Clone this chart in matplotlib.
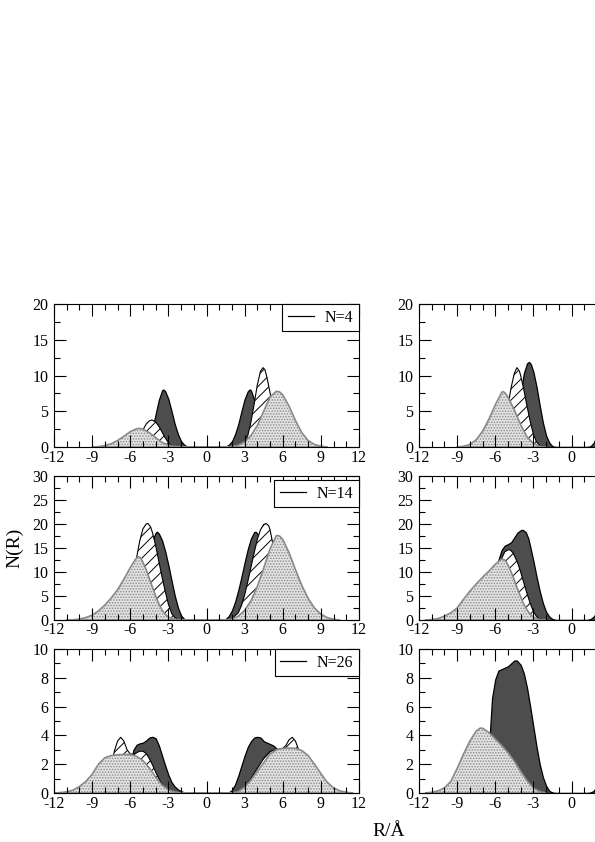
import matplotlib
matplotlib.use('Agg')
import matplotlib.pyplot as plt
from matplotlib.lines import Line2D
from matplotlib.ticker import MultipleLocator

plt.rcParams['font.family'] = ['Liberation Serif', 'DejaVu Serif']
plt.rcParams['axes.unicode_minus'] = False
plt.rcParams['hatch.linewidth'] = 0.7

# ---------------- data ----------------
# Left column, N=4
L1_dark_x = [-5.0, -4.75, -4.5, -4.25, -4.0, -3.75, -3.5, -3.4, -3.25, -3.0, -2.75, -2.5, -2.25, -2.0, -1.75, -1.5, -1.25,
             1.25, 1.5, 1.75, 2.0, 2.25, 2.5, 2.75, 3.0, 3.25, 3.4, 3.5, 3.75, 4.0, 4.25, 4.5, 4.75, 5.0]
L1_dark_y = [0, 0.3, 1.1, 2.6, 4.6, 6.6, 7.9, 8.05, 7.8, 6.7, 5.0, 3.2, 1.8, 0.8, 0.3, 0.05, 0,
             0, 0.05, 0.3, 0.8, 1.8, 3.2, 5.0, 6.7, 7.8, 8.05, 7.9, 6.6, 4.6, 2.6, 1.1, 0.3, 0]
L1_hatch_x = [-6.0, -5.5, -5.25, -5.0, -4.75, -4.5, -4.3, -4.0, -3.75, -3.5, -3.25, -3.0, -2.75, -2.5, -2.25,
              2.5, 2.75, 3.0, 3.25, 3.5, 3.75, 4.0, 4.25, 4.45, 4.6, 4.75, 5.0, 5.25, 5.5, 5.75, 6.0, 6.5, 7.0]
L1_hatch_y = [0, 0.6, 1.4, 2.4, 3.2, 3.65, 3.78, 3.5, 2.9, 2.1, 1.3, 0.6, 0.2, 0.05, 0,
              0, 0.2, 0.6, 1.6, 3.5, 6.0, 8.7, 10.6, 11.1, 10.8, 9.8, 7.6, 5.2, 3.0, 1.5, 0.6, 0.1, 0]
L1_dot_x = [-9.0, -8.5, -8.0, -7.5, -7.0, -6.5, -6.0, -5.5, -5.25, -5.0, -4.5, -4.0, -3.5, -3.0, -2.5, -2.0,
            1.5, 2.0, 2.5, 3.0, 3.5, 4.0, 4.5, 5.0, 5.5, 5.75, 6.0, 6.5, 7.0, 7.5, 8.0, 8.5, 9.0, 9.5]
L1_dot_y = [0, 0.05, 0.2, 0.45, 0.9, 1.5, 2.15, 2.55, 2.6, 2.5, 2.0, 1.3, 0.65, 0.25, 0.07, 0,
            0, 0.05, 0.25, 0.7, 1.6, 3.0, 5.0, 7.0, 7.8, 7.7, 7.3, 5.7, 3.7, 2.0, 0.9, 0.35, 0.1, 0]

# Left column, N=14
L2_dark_x = [-5.5, -5.0, -4.75, -4.5, -4.25, -4.0, -3.9, -3.75, -3.5, -3.25, -3.0, -2.75, -2.5, -2.25, -2.0, -1.75, -1.5,
             1.0, 1.5, 1.75, 2.0, 2.25, 2.5, 2.75, 3.0, 3.25, 3.5, 3.75, 3.85, 4.0, 4.25, 4.5, 4.75, 5.0, 5.5, 6.0]
L2_dark_y = [0, 3, 8, 13, 16.5, 18.2, 18.4, 18.0, 16.6, 14.3, 11.4, 8.2, 5.1, 2.6, 0.9, 0.2, 0,
             0, 0.2, 0.8, 2.0, 3.8, 6.2, 9.0, 12.0, 14.8, 17.0, 18.3, 18.4, 18.0, 15.5, 11.0, 6.0, 2.5, 0.3, 0]
L2_hatch_x = [-7.5, -7.0, -6.5, -6.0, -5.75, -5.5, -5.25, -5.0, -4.75, -4.6, -4.4, -4.25, -4.0, -3.75, -3.5, -3.25,
              -3.0, -2.75, -2.5, -2.25, -2.0,
              1.5, 2.0, 2.5, 2.75, 3.0, 3.25, 3.5, 3.75, 4.0, 4.25, 4.5, 4.7, 4.9, 5.0, 5.25, 5.5, 5.75, 6.0, 6.5, 7.0, 7.5]
L2_hatch_y = [0, 0.5, 2.0, 5.0, 9.0, 13.0, 16.5, 19.0, 20.0, 20.1, 19.4, 18.2, 15.5, 12.2, 9.0, 6.0,
              3.3, 1.4, 0.5, 0.1, 0,
              0, 0.3, 1.5, 3.0, 5.2, 8.0, 11.0, 14.0, 16.8, 18.8, 19.9, 20.1, 19.6, 18.8, 15.5, 11.5, 7.5, 4.5, 1.5, 0.4, 0]
L2_dot_x = [-11.0, -10.5, -10.0, -9.5, -9.0, -8.5, -8.0, -7.5, -7.0, -6.5, -6.0, -5.6, -5.4, -5.2, -5.0, -4.75, -4.5,
            -4.25, -4.0, -3.75, -3.5, -3.25, -3.0, -2.5, -2.0,
            1.5, 2.0, 2.5, 3.0, 3.5, 4.0, 4.5, 5.0, 5.5, 5.75, 6.0, 6.5, 7.0, 7.5, 8.0, 8.5, 9.0, 9.5, 10.0, 10.5]
L2_dot_y = [0, 0.05, 0.2, 0.5, 1.0, 1.9, 3.1, 4.6, 6.3, 8.5, 10.9, 12.6, 13.2, 13.0, 12.0, 10.5, 8.7,
            6.8, 5.0, 3.4, 2.1, 1.2, 0.6, 0.15, 0,
            0, 0.2, 0.8, 2.0, 4.0, 7.0, 10.8, 14.8, 17.6, 17.5, 16.8, 14.0, 10.5, 7.2, 4.5, 2.5, 1.2, 0.5, 0.15, 0]

# Left column, N=26
L3_dark_x = [-7.0, -6.5, -6.0, -5.75, -5.5, -5.25, -5.0, -4.75, -4.5, -4.25, -4.0, -3.75, -3.5, -3.25, -3.0, -2.75,
             -2.5, -2.25, -2.0, -1.75, -1.5, -1.25,
             1.5, 1.75, 2.0, 2.25, 2.5, 2.75, 3.0, 3.25, 3.5, 3.75, 4.0, 4.25, 4.5, 4.75, 5.0, 5.25, 5.5, 5.75,
             6.0, 6.5, 7.0, 7.5]
L3_dark_y = [0, 0.5, 2.0, 3.0, 3.35, 3.45, 3.5, 3.65, 3.85, 3.9, 3.8, 3.3, 2.6, 1.9, 1.25, 0.75,
             0.45, 0.25, 0.12, 0.05, 0.02, 0,
             0, 0.05, 0.2, 0.6, 1.2, 1.9, 2.6, 3.2, 3.6, 3.85, 3.9, 3.85, 3.6, 3.5, 3.4, 3.3, 3.1, 2.7,
             2.0, 0.8, 0.2, 0]
L3_hatch_x = [-8.5, -8.0, -7.5, -7.25, -7.0, -6.75, -6.5, -6.25, -6.0, -5.75, -5.5, -5.25, -5.0, -4.75, -4.5, -4.25,
              -4.0, -3.75, -3.5, -3.25, -3.0, -2.5, -2.0,
              2.0, 2.5, 3.0, 3.5, 4.0, 4.5, 5.0, 5.5, 6.0, 6.25, 6.5, 6.75, 7.0, 7.25, 7.5, 8.0, 8.5, 9.0]
L3_hatch_y = [0, 0.5, 1.8, 2.9, 3.6, 3.87, 3.6, 3.0, 2.7, 2.7, 2.8, 2.9, 2.9, 2.75, 2.4, 1.95,
              1.45, 1.0, 0.6, 0.3, 0.15, 0.03, 0,
              0, 0.1, 0.4, 1.0, 1.7, 2.4, 2.9, 3.0, 3.1, 3.3, 3.7, 3.87, 3.6, 3.0, 2.2, 1.0, 0.3, 0]
L3_dot_x = [-12.0, -11.5, -11.0, -10.5, -10.0, -9.5, -9.0, -8.5, -8.0, -7.5, -7.0, -6.5, -6.0, -5.5, -5.0, -4.5,
            -4.0, -3.5, -3.0, -2.5, -2.0,
            2.0, 2.5, 3.0, 3.5, 4.0, 4.5, 5.0, 5.5, 6.0, 6.5, 7.0, 7.5, 8.0, 8.5, 9.0, 9.5, 10.0, 10.5, 11.0, 11.5]
L3_dot_y = [0, 0.03, 0.08, 0.2, 0.45, 0.8, 1.3, 2.0, 2.45, 2.6, 2.65, 2.68, 2.67, 2.55, 2.25, 1.75,
            1.1, 0.55, 0.22, 0.07, 0,
            0, 0.1, 0.4, 0.9, 1.5, 2.1, 2.7, 3.0, 3.1, 3.12, 3.1, 2.95, 2.6, 2.0, 1.35, 0.75, 0.35, 0.15, 0.05, 0]

# Right column, top
R1_dark_x = [-5.0, -4.5, -4.25, -4.0, -3.75, -3.5, -3.35, -3.2, -3.0, -2.75, -2.5, -2.25, -2.0, -1.75, -1.5, -1.25,
             1.25, 1.5, 1.75, 2.0, 2.25, 2.5]
R1_dark_y = [0, 1.5, 4.0, 7.5, 10.3, 11.7, 11.9, 11.6, 10.5, 8.4, 5.8, 3.4, 1.6, 0.6, 0.1, 0,
             0, 0.1, 0.6, 1.6, 3.4, 5.8]
R1_hatch_x = [-6.5, -6.0, -5.5, -5.25, -5.0, -4.75, -4.5, -4.3, -4.1, -4.0, -3.75, -3.5, -3.25, -3.0, -2.75, -2.5, -2.0]
R1_hatch_y = [0, 0.5, 2.0, 3.6, 5.8, 8.3, 10.3, 11.1, 10.6, 10.0, 8.0, 5.7, 3.6, 1.8, 0.7, 0.2, 0]
R1_dot_x = [-9.0, -8.5, -8.0, -7.5, -7.0, -6.5, -6.0, -5.5, -5.4, -5.25, -5.0, -4.5, -4.0, -3.5, -3.0, -2.5, -2.0]
R1_dot_y = [0, 0.1, 0.35, 1.0, 2.2, 3.9, 5.9, 7.6, 7.75, 7.6, 7.0, 5.2, 3.1, 1.4, 0.5, 0.1, 0]

# Right column, middle
R2_dark_x = [-6.5, -6.0, -5.75, -5.5, -5.25, -5.0, -4.75, -4.5, -4.25, -4.0, -3.85, -3.6, -3.4, -3.25, -3.0, -2.75,
             -2.5, -2.25, -2.0, -1.75, -1.5, -1.25,
             1.25, 1.5, 1.75, 2.0, 2.25, 2.5]
R2_dark_y = [0, 9.0, 12.5, 14.6, 15.5, 15.8, 16.2, 17.2, 18.2, 18.7, 18.8, 18.3, 17.0, 15.3, 12.3, 9.0,
             6.0, 3.5, 1.7, 0.7, 0.2, 0,
             0, 0.2, 0.7, 1.7, 3.5, 6.0]
R2_hatch_x = [-6.5, -6.0, -5.75, -5.5, -5.25, -5.0, -4.85, -4.6, -4.25, -4.0, -3.75, -3.5, -3.25, -3.0, -2.75, -2.5, -2.0]
R2_hatch_y = [0, 6.0, 10.0, 12.8, 14.2, 14.6, 14.65, 14.0, 12.0, 10.0, 7.7, 5.5, 3.5, 1.8, 0.7, 0.2, 0]
R2_dot_x = [-11.5, -11.0, -10.5, -10.0, -9.5, -9.0, -8.5, -8.0, -7.5, -7.0, -6.5, -6.0, -5.5, -5.25, -5.0, -4.75,
            -4.5, -4.25, -4.0, -3.75, -3.5, -3.25, -3.0, -2.5, -2.0]
R2_dot_y = [0, 0.1, 0.3, 0.8, 1.5, 2.5, 4.3, 6.0, 7.5, 8.9, 10.2, 11.6, 12.7, 12.5, 11.5, 10.0,
            8.3, 6.5, 4.8, 3.3, 2.1, 1.2, 0.6, 0.1, 0]

# Right column, bottom
R3_dark_x = [-7.0, -6.5, -6.4, -6.25, -6.0, -5.75, -5.5, -5.25, -5.0, -4.75, -4.5, -4.3, -4.0, -3.75, -3.5, -3.25,
             -3.0, -2.75, -2.5, -2.25, -2.0, -1.75, -1.5, -1.25,
             1.25, 1.5, 1.75, 2.0, 2.25, 2.5]
R3_dark_y = [0, 2.0, 4.5, 6.6, 7.9, 8.5, 8.6, 8.7, 8.8, 9.0, 9.2, 9.2, 8.9, 8.3, 7.3, 6.0,
             4.6, 3.2, 2.0, 1.1, 0.5, 0.15, 0.03, 0,
             0, 0.03, 0.15, 0.5, 1.1, 2.0]
R3_dot_x = [-11.5, -11.0, -10.5, -10.0, -9.5, -9.0, -8.5, -8.0, -7.5, -7.2, -7.0, -6.5, -6.0, -5.5, -5.0, -4.5,
            -4.0, -3.5, -3.0, -2.5, -2.0]
R3_dot_y = [0, 0.05, 0.15, 0.35, 0.8, 1.7, 2.7, 3.6, 4.3, 4.5, 4.5, 4.2, 3.75, 3.3, 2.8, 2.2,
            1.5, 0.85, 0.35, 0.1, 0]

legend_labels = ['N=4', 'N=14', 'N=26']
y_max = [20, 30, 10]
y_major = [5, 5, 2]
x_tick_values = [-12, -9, -6, -3, 0, 3, 6, 9, 12]

# ---------------- figure ----------------
W, H = 595, 842
fig = plt.figure(figsize=(W / 100, H / 100), dpi=100)

rows = [(304, 447), (476, 620), (649, 793)]
cols = [(54, 359), (419, 724)]
legend_drop_px = [0, 4, 0]


def rect(l, r, t, b):
    return [l / W, 1 - b / H, (r - l) / W, (b - t) / H]


DARK = '#4d4d4d'
DOTC = '#8a8a8a'

panels = {
    (0, 0): (L1_dark_x, L1_dark_y, L1_hatch_x, L1_hatch_y, L1_dot_x, L1_dot_y),
    (1, 0): (L2_dark_x, L2_dark_y, L2_hatch_x, L2_hatch_y, L2_dot_x, L2_dot_y),
    (2, 0): (L3_dark_x, L3_dark_y, L3_hatch_x, L3_hatch_y, L3_dot_x, L3_dot_y),
    (0, 1): (R1_dark_x, R1_dark_y, R1_hatch_x, R1_hatch_y, R1_dot_x, R1_dot_y),
    (1, 1): (R2_dark_x, R2_dark_y, R2_hatch_x, R2_hatch_y, R2_dot_x, R2_dot_y),
    (2, 1): (R3_dark_x, R3_dark_y, None, None, R3_dot_x, R3_dot_y),
}

for (ri, ci), (dx, dy, hx, hy, px, py) in panels.items():
    t, b = rows[ri]
    l, r = cols[ci]
    ax = fig.add_axes(rect(l, r, t, b))
    ax.set_xlim(-12, 12)
    ax.set_ylim(0, y_max[ri])
    ax.set_xticks(x_tick_values)
    if ci == 0:
        ax.set_xticklabels([str(v) for v in x_tick_values])
    else:
        # the right column is cut by the page edge: only labels that fit are shown
        ax.set_xticklabels([str(v) if v <= 0 else '' for v in x_tick_values])
    ax.xaxis.set_minor_locator(MultipleLocator(1))
    ax.yaxis.set_major_locator(MultipleLocator(y_major[ri]))
    ax.yaxis.set_minor_locator(MultipleLocator(y_major[ri] / 2))
    ax.tick_params(which='both', direction='in', top=True, right=True,
                   labelsize=11.5, width=0.8, colors='black')
    ax.tick_params(which='major', length=8.5)
    ax.tick_params(which='minor', length=4.3)
    ax.tick_params(axis='x', pad=1.8)
    ax.tick_params(axis='y', pad=4.0)
    for s in ax.spines.values():
        s.set_linewidth(0.8)

    ax.fill_between(dx, 0, dy, facecolor=DARK, edgecolor='black', linewidth=0.9, zorder=1.0)
    if hx is not None:
        ax.fill_between(hx, 0, hy, facecolor='white', edgecolor='black', hatch='///',
                        linewidth=0.8, zorder=1.1)
    ax.fill_between(px, 0, py, facecolor='#e2e2e2', edgecolor=DOTC, hatch='......',
                    linewidth=1.2, zorder=1.2)

    if ci == 0:
        drop = legend_drop_px[ri] / (b - t)
        leg = ax.legend([Line2D([0], [0], color='black', lw=0.9)], [legend_labels[ri]],
                        loc='upper right', bbox_to_anchor=(1, 1 - drop), borderaxespad=0,
                        frameon=True, fancybox=False, framealpha=1, edgecolor='black',
                        fontsize=11.5, handlelength=1.6, handletextpad=0.7, borderpad=0.35)
        leg.get_frame().set_linewidth(0.8)

fig.text(15 / W, 1 - 548 / H, 'N(R)', rotation=90, ha='center', va='center', fontsize=14)
fig.text(389 / W, 1 - 831 / H, 'R/Å', ha='center', va='center', fontsize=14)

fig.savefig('out.png', dpi=100)
